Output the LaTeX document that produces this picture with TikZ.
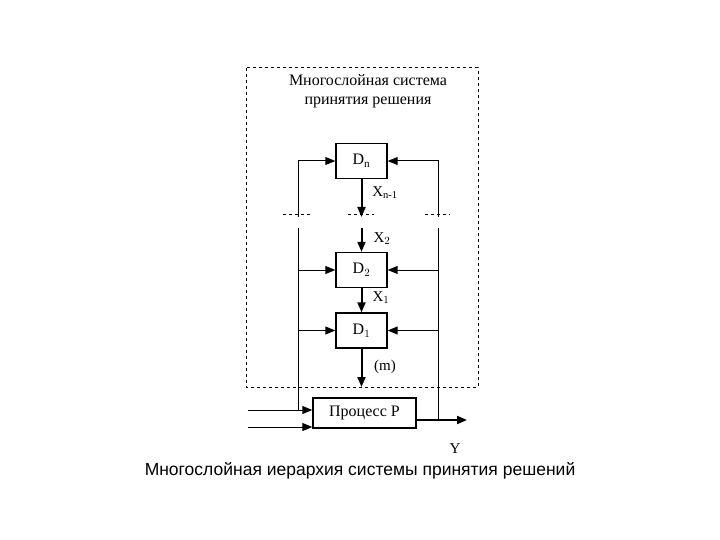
\documentclass[tikz,border=0pt]{standalone}
\usepackage{fontspec}
\setmainfont{Liberation Serif}
\newfontfamily\capfont{Liberation Sans}
\usetikzlibrary{arrows.meta}
\begin{document}
\begin{tikzpicture}[x=1pt,y=-1pt,line width=1pt,
  blk/.style={draw,line width=1.4pt,minimum width=51pt,minimum height=35pt,inner sep=0pt,font=\fontsize{16}{16}\selectfont},
  ar/.style={-{Triangle[length=10pt,width=8pt]}},
  lbl/.style={font=\fontsize{15}{15}\selectfont,inner sep=0pt}]
\useasboundingbox (0,0) rectangle (720,540);
\draw[dashed] (246,68) rectangle (478,387);
\node[lbl,align=center,font=\fontsize{16}{16}\selectfont] (t) at (368,91) {Многослойная система\\[3pt]принятия решения};
\node[blk] (dn) at (361.5,161) {D\textsubscript{n}};
\node[blk] (d2) at (361.5,270) {D$_2$};
\node[blk] (d1) at (361.5,330.5) {D$_1$};
\node[draw,line width=1.4pt,minimum width=103pt,minimum height=30pt,inner sep=0pt,font=\fontsize{16}{16}\selectfont] (p) at (364.5,413) {Процесс P};
\coordinate (mt) at (361.5,217);
\coordinate (mb) at (361.5,228);
\coordinate (mo) at (361.5,387);
\draw[line width=2pt,ar] (dn) -- (mt);
\draw[line width=2pt,ar] (mb) -- (d2);
\draw[line width=2pt,ar] (d2) -- (d1);
\draw[line width=2pt,ar] (d1) -- (mo);
\draw[dashed] (283,215) -- (310,215) (348,215) -- (374,215) (425,215) -- (450,215);
\coordinate (l1) at (298,217); \coordinate (l2) at (298,228); \coordinate (l3) at (298,410);
\coordinate (r1) at (438,217); \coordinate (r2) at (438,228); \coordinate (r3) at (438,420);
\draw[ar] (l1) |- (dn.west);
\draw[ar] (r1) |- (dn.east);
\draw (l2) -- (l3);
\draw (r2) -- (r3);
\draw[ar] (298,270) -- (d2.west);
\draw[ar] (298,330.5) -- (d1.west);
\draw[ar] (438,270) -- (d2.east);
\draw[ar] (438,330.5) -- (d1.east);
\coordinate (i1) at (248,410); \coordinate (i2) at (248,427);
\draw[ar] (i1) -- (p.west |- i1);
\draw[ar] (i2) -- (p.west |- i2);
\coordinate (o) at (467,420);
\draw[line width=2pt,ar] (p.east |- o) -- (o);
\node[lbl] (x1) at (385,193) {X\textsubscript{n-1}};
\node[lbl] (x2) at (382,239) {X$_2$};
\node[lbl] (x3) at (381,298) {X$_1$};
\node[lbl] (m) at (385,367) {(m)};
\node[lbl] (y) at (455,449) {Y};
\node[font=\capfont\fontsize{17.5}{17.5}\selectfont,inner sep=0pt] (c) at (360,471) {Многослойная иерархия системы принятия решений};
\end{tikzpicture}
\end{document}
